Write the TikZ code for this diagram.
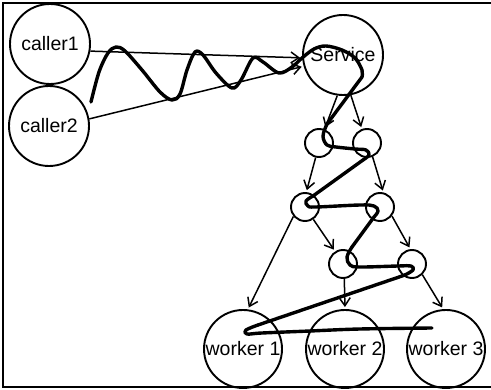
\documentclass[tikz,border=0pt]{standalone}
\usepackage{fontspec}
\setmainfont{Liberation Sans}
\usetikzlibrary{arrows.meta}
\begin{document}
\begin{tikzpicture}[x=1pt,y=-1pt,
  big/.style={circle,draw,line width=1.9pt,minimum size=80pt,inner sep=0pt,
    font=\fontsize{19.5}{22}\selectfont},
  small/.style={circle,draw,line width=1.9pt,minimum size=28pt,inner sep=0pt},
  arr/.style={line width=1.5pt,-{Straight Barb[length=8pt,width=11pt,line width=1.5pt]},shorten >=2pt},
  scribble/.style={line width=3.4pt,line cap=round,line join=round}]
\useasboundingbox (0,0) rectangle (491,390);
% frame
\draw[line width=2.2pt] (491,3) -- (3,3) -- (3,387) -- (491,387);

% callers and service
\node[big] (c1) at (50,44) {caller1};
\node[big] (c2) at (49,126) {caller2};
\node[big] (svc) at (343,55) {Service};

% routing tree
\node[small] (a1) at (319,143) {};
\node[small] (a2) at (367,143) {};
\node[small] (b1) at (305,207) {};
\node[small] (b2) at (380,207) {};
\node[small] (d1) at (343,264) {};
\node[small] (d2) at (412,264) {};

% workers
\node[big,minimum size=78pt] (w1) at (243,349) {worker 1};
\node[big,minimum size=78pt] (w2) at (345,349) {worker 2};
\node[big,minimum size=78pt] (w3) at (446,349) {worker 3};

% requests
\draw[arr] (c1.-10) -- (svc.184);
\draw[arr] (c2.10) -- (svc.196);
\draw[arr] (svc.-98) -- (a1.68);
\draw[arr] (svc.-79) -- (a2.110);
\draw[arr] (a1.-103) -- (b1.85);
\draw[arr] (a2.-68) -- (b2.77);
\draw[arr] (b1.-56) -- (d1.122);
\draw[arr] (b2.-37) -- (d2.96);
\draw[arr] (b1.-141) -- (w1.83);
\draw[arr] (d1.-85) -- (w2.90);
\draw[arr] (d2.-46) -- (w3.94);

% path taken by one request
\draw[scribble] plot[smooth,tension=0.55] coordinates {
  (91,102) (99,72) (108,53) (116,47) (125,51) (142,70) (160,92) (172,100)
  (180,94) (187,70) (195,52) (203,55) (216,73) (232,88) (241,80) (253,58)
  (263,62) (279,73) (292,67) (302,58) (314,49) (326,46) (342,50) (355,58)
  (362,70) (362,77)};
\draw[scribble] (362,77) -- (327,124);
\draw[scribble] plot[smooth,tension=0.6] coordinates {
  (327,124) (323,136) (327,145) (336,147) (355,149) (366,150) (369,155) (363,160)};
\draw[scribble] (363,160) -- (313,196);
\draw[scribble] plot[smooth,tension=0.6] coordinates {
  (313,196) (306,201) (308,206) (316,207) (360,205) (374,206) (378,211) (374,217)};
\draw[scribble] (374,217) -- (352,247);
\draw[scribble] plot[smooth,tension=0.6] coordinates {
  (352,247) (347,257) (350,265) (360,267) (398,266) (411,266) (413,270) (405,275)};
\draw[scribble] (405,275) -- (258,325);
\draw[scribble] plot[smooth,tension=0.6] coordinates {
  (258,325) (246,330) (247,334) (262,333) (310,331) (360,329) (432,328)};
\end{tikzpicture}
\end{document}
